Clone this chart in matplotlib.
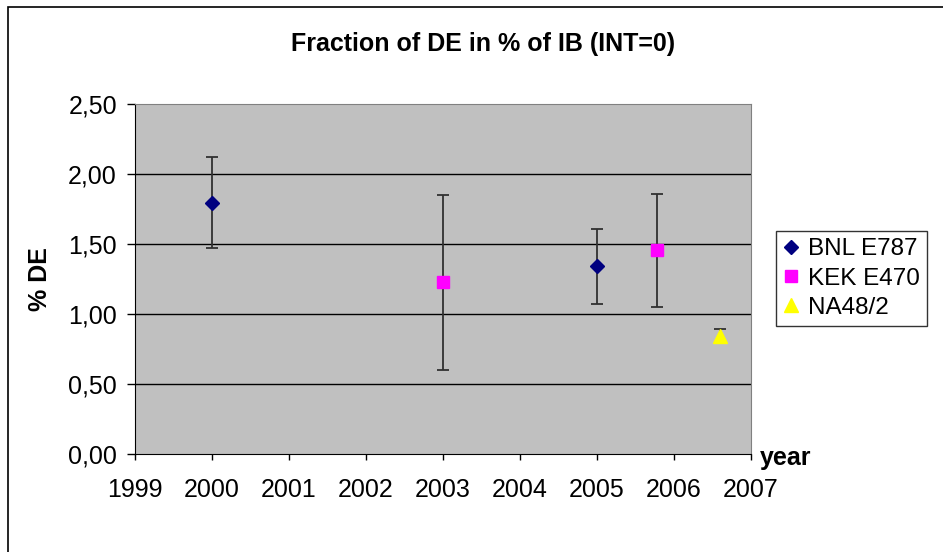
import matplotlib
matplotlib.use("Agg")
import matplotlib.pyplot as plt
from matplotlib.patches import Rectangle

# data
bnl_year = [2000.0, 2005.0]
bnl_val = [1.79, 1.34]
bnl_lo = [1.47, 1.07]
bnl_hi = [2.12, 1.61]

kek_year = [2003.0, 2005.78]
kek_val = [1.23, 1.46]
kek_lo = [0.60, 1.05]
kek_hi = [1.85, 1.86]

na48_year = [2006.6]
na48_val = [0.84]
na48_lo = [0.79]
na48_hi = [0.89]

years = list(range(1999, 2008))
yticks = [0.0, 0.5, 1.0, 1.5, 2.0, 2.5]

plt.rcParams.update({
    "font.family": ["Liberation Sans", "DejaVu Sans"],
    "font.size": 18,
})

W, H = 943, 552
fig = plt.figure(figsize=(W / 100, H / 100), dpi=100)
fig.patch.set_facecolor("white")

# outer chart border (left/top visible)
fig.patches.append(Rectangle((8 / W, -0.1), 2.0, 1.1 - 7.5 / H,
                             transform=fig.transFigure, fill=False,
                             edgecolor="black", linewidth=1.2))

ax = fig.add_axes([135 / W, (H - 454) / H, (751 - 135) / W, (454 - 104) / H])
ax.set_facecolor("#c0c0c0")
ax.set_xlim(1999, 2007)
ax.set_ylim(0, 2.5)
ax.set_xticks(years)
ax.set_xticklabels([str(y) for y in years])
ax.set_yticks(yticks)
ax.set_yticklabels([f"{v:.2f}".replace(".", ",") for v in yticks])
for v in yticks[1:-1]:
    ax.axhline(v, color="black", linewidth=1.0, zorder=1)

for s in ["top", "right"]:
    ax.spines[s].set_color("#808080")
for s in ["left", "bottom"]:
    ax.spines[s].set_color("black")
ax.tick_params(axis="x", direction="out", length=4.5, width=1, pad=13,
               labelsize=18)
ax.tick_params(axis="y", direction="out", length=6, width=1, pad=7,
               labelsize=18)


def errs(vals, lo, hi):
    return [[v - l for v, l in zip(vals, lo)], [h - v for v, h in zip(vals, hi)]]


eb = dict(fmt="none", ecolor="#303030", elinewidth=1.3, capsize=4.5,
          capthick=1.3, zorder=2)
ax.errorbar(bnl_year, bnl_val, yerr=errs(bnl_val, bnl_lo, bnl_hi), **eb)
ax.errorbar(kek_year, kek_val, yerr=errs(kek_val, kek_lo, kek_hi), **eb)
ax.errorbar(na48_year, na48_val, yerr=errs(na48_val, na48_lo, na48_hi), **eb)

ax.plot(bnl_year, bnl_val, "D", color="#000080", markersize=7,
        linestyle="none", zorder=3, label="BNL E787")
ax.plot(kek_year, kek_val, "s", color="#ff00ff", markersize=8,
        linestyle="none", zorder=3, label="KEK E470")
ax.plot(na48_year, na48_val, "^", color="#ffff00", markersize=9.5,
        linestyle="none", zorder=3, label="NA48/2")

fig.text(483 / W, 1 - 44 / H, "Fraction of DE in % of IB (INT=0)",
         ha="center", va="center", fontsize=18, fontweight="bold")
fig.text(40 / W, 1 - 279 / H, "% DE", rotation=90, ha="center",
         va="center", fontsize=18, fontweight="bold")
fig.text(760 / W, 1 - 458 / H, "year", ha="left", va="center",
         fontsize=18, fontweight="bold")

leg = fig.legend(loc="upper left", bbox_to_anchor=(776 / W, 1 - 231 / H),
                 frameon=True, fancybox=False, shadow=False,
                 borderpad=0.3, labelspacing=0.3, handlelength=0.6,
                 handletextpad=0.4, borderaxespad=0, fontsize=17.5)
leg.get_frame().set_edgecolor("black")
leg.get_frame().set_linewidth(1.0)

fig.savefig("out.png", dpi=100)
